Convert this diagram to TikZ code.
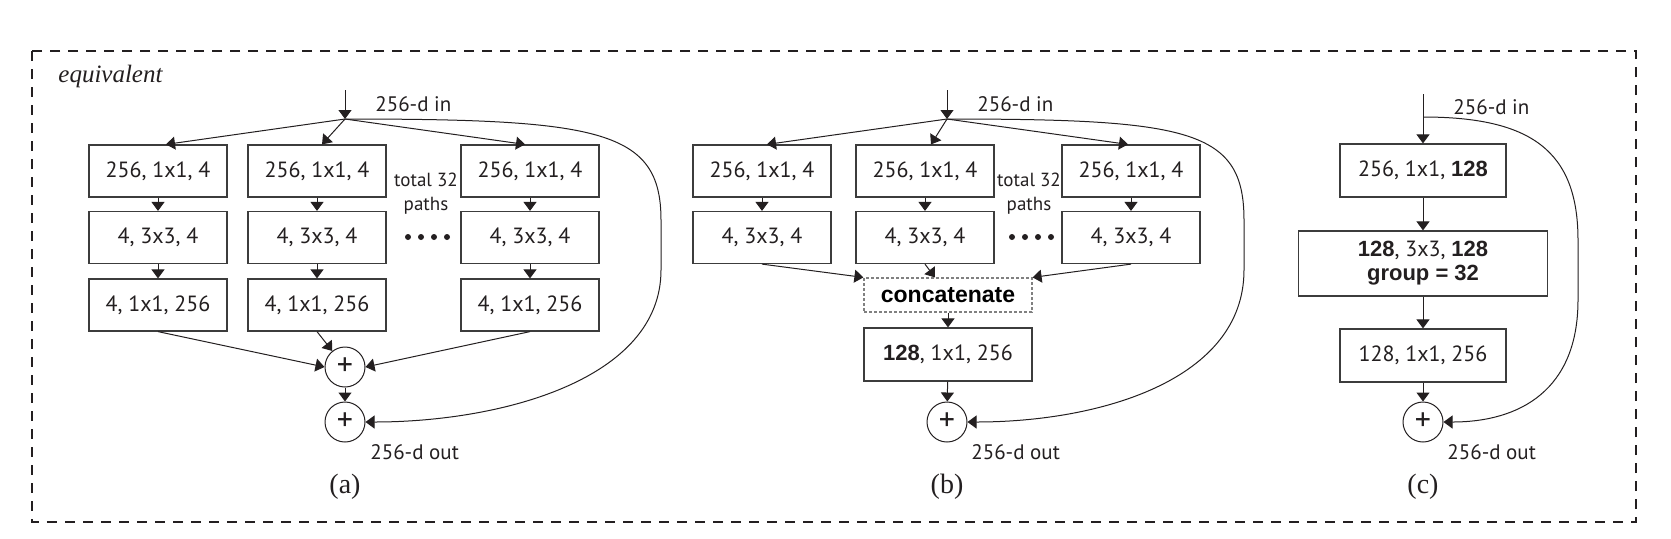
\documentclass[tikz,border=0pt]{standalone}
\usepackage{fontspec}
\setmainfont{Liberation Serif}
\newfontfamily\myr{PT Sans}
\newfontfamily\arl{Liberation Sans}
\usetikzlibrary{arrows.meta,calc}
\definecolor{ink}{HTML}{231F20}
\definecolor{frame}{HTML}{3C3C3C}
\begin{document}
\begin{tikzpicture}[x=0.5pt,y=-0.5pt,
  box/.style={draw=frame, line width=0.6pt, minimum width=69pt, minimum height=26pt, inner sep=0pt, font=\myr\fontsize{11}{13}\selectfont, text=ink},
  sumnode/.style={circle, draw=ink, line width=0.5pt, minimum size=20pt, inner sep=0pt, font=\myr\fontsize{16}{16}\selectfont, text=ink},
  arr/.style={draw=ink, line width=0.5pt, -{Triangle[length=4.5pt,width=6.5pt]}},
  lbl/.style={font=\myr\fontsize{10.5}{12}\selectfont, text=ink, inner sep=0pt},
  tot/.style={font=\myr\fontsize{9.5}{12}\selectfont, text=ink, inner sep=0pt, align=center},
  captxt/.style={font=\fontsize{14}{16}\selectfont, text=ink, inner sep=0pt},
  bb/.style={font=\arl\bfseries\fontsize{11.5}{15}\selectfont},
  ]
\useasboundingbox (0,0) rectangle (1671,538);
\draw[ink, line width=0.6pt, dash pattern=on 5pt off 4pt] (32,51) rectangle (1636,522);
\node[anchor=west, inner sep=0pt, text=ink, font=\itshape\fontsize{12.5}{14}\selectfont] (eq) at (58,76) {equivalent};

% ---------------- (a)
\coordinate (ainT) at (345,90);
\coordinate (ainS) at (345,119);
\node[box] (a11) at (158,171) {256, 1x1, 4};
\node[box] (a12) at (158,237.5) {4, 3x3, 4};
\node[box] (a13) at (158,305) {4, 1x1, 256};
\node[box] (a21) at (317,171) {256, 1x1, 4};
\node[box] (a22) at (317,237.5) {4, 3x3, 4};
\node[box] (a23) at (317,305) {4, 1x1, 256};
\node[box] (a31) at (530,171) {256, 1x1, 4};
\node[box] (a32) at (530,237.5) {4, 3x3, 4};
\node[box] (a33) at (530,305) {4, 1x1, 256};
\node[sumnode] (as1) at (345,367) {+};
\node[sumnode] (as2) at (345,422) {+};
\node[lbl, anchor=west] (ain) at (375,104) {256-d in};
\node[lbl, anchor=west] (aout) at (370,452) {256-d out};
\node[tot] (atot) at (426,194) {total 32\\paths};
\foreach \i in {0,1,2,3} \fill[ink] (408+\i*13,237) circle (1.5pt);
\node[captxt] (acap) at (345,487) {(a)};
\draw[arr] (ainT) -- (ainS);
\draw[arr] (ainS) -- ($(a11.north)+(8,0)$);
\draw[arr] (ainS) -- ($(a21.north)+(5,0)$);
\draw[arr] (ainS) -- ($(a31.north)+(-5,0)$);
\foreach \c in {1,2,3}{
  \draw[arr] (a\c1) -- (a\c2);
  \draw[arr] (a\c2) -- (a\c3);
}
\draw[arr] (a13.south) -- (as1.west);
\draw[arr] (a23.south) -- (as1);
\draw[arr] (a33.south) -- (as1.east);
\draw[arr] (as1) -- (as2);
\draw[arr] (ainS) .. controls (600,119) and (661,130) .. (661,220) -- (661,270) .. controls (661,380) and (500,422) .. (as2.east);

% ---------------- (b)
\coordinate (binT) at (947,90);
\coordinate (binS) at (947,119);
\node[box] (b11) at (762,171) {256, 1x1, 4};
\node[box] (b12) at (762,237.5) {4, 3x3, 4};
\node[box] (b21) at (925,171) {256, 1x1, 4};
\node[box] (b22) at (925,237.5) {4, 3x3, 4};
\node[box] (b31) at (1131,171) {256, 1x1, 4};
\node[box] (b32) at (1131,237.5) {4, 3x3, 4};
\node[box, draw=gray, line width=0.6pt, dash pattern=on 1.5pt off 1pt, minimum width=84pt, minimum height=17pt, bb, text=black] (bcat) at (948,295) {concatenate};
\node[box, minimum width=84pt, minimum height=26.5pt] (bout) at (948,354.5) {{\bfseries\arl 128}, 1x1, 256};
\node[sumnode] (bsum) at (947,422) {+};
\node[lbl, anchor=west] (bin) at (977,104) {256-d in};
\node[lbl, anchor=west] (bo) at (971,452) {256-d out};
\node[tot] (btot) at (1029,194) {total 32\\paths};
\foreach \i in {0,1,2,3} \fill[ink] (1012+\i*13,237) circle (1.5pt);
\node[captxt] (bcap) at (947,487) {(b)};
\draw[arr] (binT) -- (binS);
\draw[arr] (binS) -- ($(b11.north)+(5,0)$);
\draw[arr] (binS) -- ($(b21.north)+(6,0)$);
\draw[arr] (binS) -- ($(b31.north)+(-3,0)$);
\foreach \c in {1,2,3}{
  \draw[arr] (b\c1) -- (b\c2);
}
\draw[arr] (b12.south) -- (bcat.north west);
\draw[arr] (b22.south) -- ($(bcat.north)+(-13,0)$);
\draw[arr] (b32.south) -- (bcat.north east);
\draw[arr] (bcat) -- (bout);
\draw[arr] (bout) -- (bsum);
\draw[arr] (binS) .. controls (1190,119) and (1244,130) .. (1244,220) -- (1244,270) .. controls (1244,380) and (1100,422) .. (bsum.east);

% ---------------- (c)
\coordinate (cinT) at (1423,94);
\coordinate (cinS) at (1423,117);
\node[box, minimum width=83pt, minimum height=26.5pt] (c1) at (1423,170.5) {256, 1x1, {\bfseries\arl 128}};
\node[box, minimum width=124.5pt, minimum height=32.5pt, align=center] (c2) at (1423,263.5) {{\bfseries\arl 128}, 3x3, {\bfseries\arl 128}\\[-1pt]{\bfseries\arl group = 32}};
\node[box, minimum width=83pt, minimum height=26.5pt] (c3) at (1423,355.5) {128, 1x1, 256};
\node[sumnode] (csum) at (1423,422) {+};
\node[lbl, anchor=west] (cin) at (1453,107) {256-d in};
\node[lbl, anchor=west] (co) at (1447,452) {256-d out};
\node[captxt] (ccap) at (1423,487) {(c)};
\draw[arr] (cinT) -- (c1);
\draw[arr] (c1) -- (c2);
\draw[arr] (c2) -- (c3);
\draw[arr] (c3) -- (csum);
\draw[arr] (cinS) .. controls (1530,117) and (1578,150) .. (1578,240) -- (1578,300) .. controls (1578,390) and (1520,422) .. (csum.east);
\end{tikzpicture}
\end{document}
